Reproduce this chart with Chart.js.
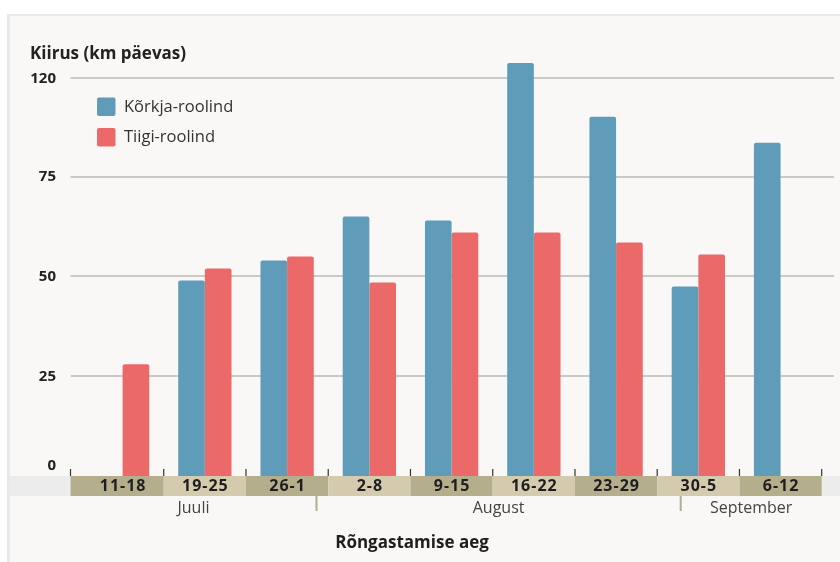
<!DOCTYPE html>
<html>
<head>
<meta charset="utf-8">
<script src="https://cdn.jsdelivr.net/npm/chart.js@4/dist/chart.umd.min.js"></script>
<style>
  html, body { margin: 0; padding: 0; background: #fff; }
  #wrap { width: 840px; height: 562px; position: relative; }
</style>
</head>
<body>
<div id="wrap"><canvas id="graph"></canvas></div>
<script>
// andmed
const periods = ["11-18", "19-25", "26-1", "2-8", "9-15", "16-22", "23-29", "30-5", "6-12"];
const korkja = [null, 49, 54, 65, 64, 103.5, 90, 47.5, 83.5];
const tiigi = [28, 52, 55, 48.5, 61, 61, 58.5, 55.5, null];
const yTickValues = [0, 25, 50, 75, 100];
const yTickLabels = ["0", "25", "50", "75", "120"];
// kuude piirid kategooria ühikutes (26-1: 6 päeva juulis, 30-5: 2 päeva augustis)
const months = ["Juuli", "August", "September"];
const monthBreaks = [2 - 0.5 + 6 / 7, 7 - 0.5 + 2 / 7];

const FONT = "'Open Sans', 'Noto Sans', sans-serif";

const decor = {
    id: "decor",
    beforeDraw(chart) {
        const ctx = chart.ctx;
        ctx.save();
        ctx.fillStyle = "#ffffff";
        ctx.fillRect(0, 0, chart.width, chart.height);
        ctx.fillStyle = "#e9e8ec";
        ctx.fillRect(7, 14, chart.width - 7, chart.height - 14);
        ctx.fillStyle = "#f9f8f6";
        ctx.fillRect(10, 16, chart.width - 10, chart.height - 16);

        const y = chart.scales.y;
        const area = chart.chartArea;
        // ruudustik
        ctx.strokeStyle = "#cbc9c5";
        ctx.lineWidth = 2;
        yTickValues.forEach(v => {
            if (v === 0) return;
            const py = Math.round(y.getPixelForValue(v)) + (v === 100 ? 1 : 0);
            ctx.beginPath();
            ctx.moveTo(area.left - 11, py);
            ctx.lineTo(chart.width - 6, py);
            ctx.stroke();
        });
        // y sildid
        ctx.fillStyle = "#222";
        ctx.font = "bold 15px " + FONT;
        ctx.textAlign = "right";
        ctx.textBaseline = "middle";
        yTickValues.forEach((v, i) => {
            let py = y.getPixelForValue(v);
            if (v === 0) py -= 10;
            if (v === 100) py += 1.5;
            ctx.fillText(yTickLabels[i], 56, py);
        });
        // pealkiri
        ctx.textAlign = "left";
        ctx.textBaseline = "alphabetic";
        ctx.font = "bold 17px " + FONT;
        ctx.fillText("Kiirus (km päevas)", 30, 59);
        ctx.restore();
    },
    afterDraw(chart) {
        const ctx = chart.ctx;
        const x = chart.scales.x;
        const area = chart.chartArea;
        const base = chart.scales.y.getPixelForValue(0);
        const startX = area.left - 11;
        const half = (x.getPixelForValue(1) - x.getPixelForValue(0)) / 2;
        ctx.save();

        // hall riba
        ctx.fillStyle = "#ececec";
        ctx.fillRect(10, base, startX - 10, 20);
        ctx.fillRect(area.right, base, chart.width - area.right, 20);

        // perioodide ribad
        periods.forEach((p, i) => {
            const c = x.getPixelForValue(i);
            const l = i === 0 ? startX : c - half;
            ctx.fillStyle = i % 2 === 0 ? "#b5ae8c" : "#d4cbaf";
            ctx.fillRect(l, base, c + half - l, 20);
        });
        ctx.fillStyle = "#1e1e1e";
        ctx.font = "bold 16px " + FONT;
        ctx.letterSpacing = "1px";
        ctx.textAlign = "center";
        ctx.textBaseline = "middle";
        periods.forEach((p, i) => {
            ctx.fillText(p, x.getPixelForValue(i) + 0.5, base + 10.5);
        });
        ctx.letterSpacing = "0px";

        // kriipsud
        ctx.strokeStyle = "#333";
        ctx.lineWidth = 1.2;
        const ticks = [startX];
        periods.forEach((p, i) => ticks.push(x.getPixelForValue(i) + half));
        ticks.forEach(tx => {
            ctx.beginPath();
            ctx.moveTo(tx, base - 7);
            ctx.lineTo(tx, base);
            ctx.stroke();
        });

        // kuud
        const edges = [startX].concat(monthBreaks.map(b => x.getPixelForValue(b)), [area.right]);
        ctx.strokeStyle = "#b5ae8c";
        ctx.lineWidth = 2;
        monthBreaks.forEach(b => {
            const bx = x.getPixelForValue(b);
            ctx.beginPath();
            ctx.moveTo(bx, base + 20);
            ctx.lineTo(bx, base + 35);
            ctx.stroke();
        });
        ctx.fillStyle = "#444";
        ctx.font = "16px " + FONT;
        ctx.textBaseline = "alphabetic";
        months.forEach((m, i) => {
            ctx.fillText(m, (edges[i] + edges[i + 1]) / 2, base + 37);
        });

        // telje nimi
        ctx.fillStyle = "#1e1e1e";
        ctx.font = "bold 17px " + FONT;
        ctx.fillText("Rõngastamise aeg", 412, 548);

        // legend
        ctx.textAlign = "left";
        ctx.textBaseline = "middle";
        ctx.font = "16.5px " + FONT;
        chart.data.datasets.forEach((ds, i) => {
            const ly = 97.5 + i * 30.5;
            ctx.fillStyle = ds.backgroundColor;
            ctx.beginPath();
            ctx.roundRect(97, ly, 18.5, 18.5, 2);
            ctx.fill();
            ctx.fillStyle = "#333";
            ctx.fillText(ds.label, 124, ly + 9.5);
        });
        ctx.restore();
    }
};

new Chart(document.getElementById("graph"), {
    type: "bar",
    data: {
        labels: periods,
        datasets: [
            {
                label: "Kõrkja-roolind",
                data: korkja,
                backgroundColor: "#5f9cba",
                borderRadius: { topLeft: 2, topRight: 2 },
                borderSkipped: "bottom"
            },
            {
                label: "Tiigi-roolind",
                data: tiigi,
                backgroundColor: "#eb6969",
                borderRadius: { topLeft: 2, topRight: 2 },
                borderSkipped: "bottom"
            }
        ]
    },
    options: {
        responsive: true,
        maintainAspectRatio: false,
        animation: false,
        layout: { padding: { left: 81.5, right: 18.3, top: 57, bottom: 86 } },
        scales: {
            x: { display: false, offset: true },
            y: { display: false, min: 0, max: 105 }
        },
        datasets: {
            bar: { barPercentage: 1, categoryPercentage: 0.648 }
        },
        plugins: {
            legend: { display: false },
            tooltip: { enabled: false }
        }
    },
    plugins: [decor]
});
</script>
</body>
</html>
